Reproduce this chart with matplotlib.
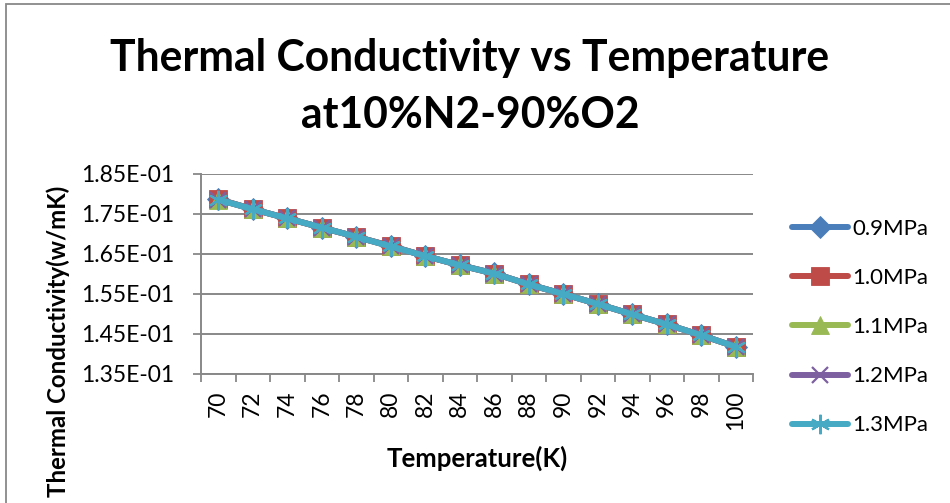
import matplotlib
matplotlib.use("Agg")
import matplotlib.pyplot as plt
from matplotlib.ticker import FuncFormatter, FixedLocator
from matplotlib.patches import Rectangle

plt.rcParams['font.family'] = ['Lato', 'DejaVu Sans']

temperature = [70, 72, 74, 76, 78, 80, 82, 84, 86, 88, 90, 92, 94, 96, 98, 100]
k_09 = [0.1787, 0.1762, 0.1739, 0.1716, 0.1693, 0.1670, 0.1645, 0.1622,
        0.1602, 0.1574, 0.1550, 0.1525, 0.1499, 0.1474, 0.1447, 0.1418]
k_10 = [0.1787, 0.1762, 0.1739, 0.1716, 0.1693, 0.1670, 0.1645, 0.1622,
        0.1601, 0.1574, 0.1550, 0.1525, 0.1499, 0.1474, 0.1447, 0.1418]
k_11 = [0.1786, 0.1762, 0.1739, 0.1716, 0.1693, 0.1669, 0.1645, 0.1622,
        0.1601, 0.1574, 0.1550, 0.1525, 0.1499, 0.1474, 0.1447, 0.1418]
k_12 = [0.1786, 0.1762, 0.1739, 0.1716, 0.1693, 0.1669, 0.1645, 0.1622,
        0.1601, 0.1574, 0.1550, 0.1525, 0.1499, 0.1474, 0.1447, 0.1418]
k_13 = [0.1786, 0.1762, 0.1739, 0.1716, 0.1693, 0.1669, 0.1645, 0.1622,
        0.1601, 0.1574, 0.1550, 0.1525, 0.1499, 0.1474, 0.1447, 0.1418]
series_labels = ['0.9MPa', '1.0MPa', '1.1MPa', '1.2MPa', '1.3MPa']
y_ticks = [0.135, 0.145, 0.155, 0.165, 0.175, 0.185]

colors = ['#4A7EBB', '#BE4B48', '#98B954', '#7D60A0', '#46AAC5']
markers = ['D', 's', '^', 'x', (6, 2, 0)]
msizes = [11, 13, 13, 12, 14]

W, H = 950, 503
fig = plt.figure(figsize=(W / 100, H / 100), dpi=100)
fig.patch.set_facecolor('white')
# chart border
fig.add_artist(Rectangle((6 / W, -0.1), 1.2, 1 - 4 / H + 0.1, transform=fig.transFigure,
                         fill=False, edgecolor='#888888', linewidth=1.3))

L, R, T, B = 201, 753, 174, 374
ax = fig.add_axes([L / W, 1 - B / H, (R - L) / W, (B - T) / H])

x = list(range(len(temperature)))
all_series = [k_09, k_10, k_11, k_12, k_13]
for i, (vals, lab) in enumerate(zip(all_series, series_labels)):
    m = markers[i]
    kw = dict(color=colors[i], linewidth=4.3, marker=m, markersize=msizes[i],
              label=lab, solid_capstyle='round')
    if m in ('x',) or isinstance(m, tuple):
        kw.update(markeredgewidth=1.6, markeredgecolor=colors[i])
    else:
        kw.update(markeredgewidth=0.6, markeredgecolor=colors[i], markerfacecolor=colors[i])
    ax.plot(x, vals, zorder=3 + i, **kw)

ax.set_xlim(-0.5, len(temperature) - 0.5)
ax.set_ylim(0.135, 0.185)
ax.set_yticks(y_ticks)
ax.yaxis.set_major_formatter(FuncFormatter(lambda v, p: ('%.2E' % v)))
ax.set_xticks(x)
ax.set_xticklabels([str(t) for t in temperature], rotation=90)
ax.xaxis.set_minor_locator(FixedLocator([i - 0.5 for i in range(len(temperature) + 1)]))
ax.tick_params(axis='x', which='major', length=0, pad=12, labelsize=16.5)
ax.tick_params(axis='x', which='minor', length=6, width=1.3, color='#888888', direction='out')
ax.tick_params(axis='y', length=6, width=1.3, color='#888888', pad=13, labelsize=16.5)
ax.grid(axis='y', color='#888888', linewidth=1.4, zorder=0)
ax.set_axisbelow(True)
for s in ('top', 'right'):
    ax.spines[s].set_visible(False)
for s in ('left', 'bottom'):
    ax.spines[s].set_color('#888888')
    ax.spines[s].set_linewidth(1.4)

fig.text(470 / W, 1 - 58 / H, 'Thermal Conductivity vs Temperature', ha='center', va='center',
         fontsize=30.7, fontweight='bold')
fig.text(470 / W, 1 - 115 / H, 'at10%N2-90%O2', ha='center', va='center',
         fontsize=30.7, fontweight='bold')
fig.text(477 / W, 1 - 458 / H, 'Temperature(K)', ha='center', va='center',
         fontsize=18.5, fontweight='bold')
fig.text(58 / W, 1 - 186 / H, 'Thermal Conductivity(w/mK)', ha='center', va='top',
         rotation=90, fontsize=17.3, fontweight='bold')

leg = fig.legend(loc='upper left', bbox_to_anchor=(792 / W, 1 - 219 / H), frameon=False,
                 fontsize=16, handlelength=2.5, handletextpad=0.2, labelspacing=1.31,
                 borderaxespad=0, borderpad=0)

fig.savefig('out.png', dpi=100, facecolor='white')
